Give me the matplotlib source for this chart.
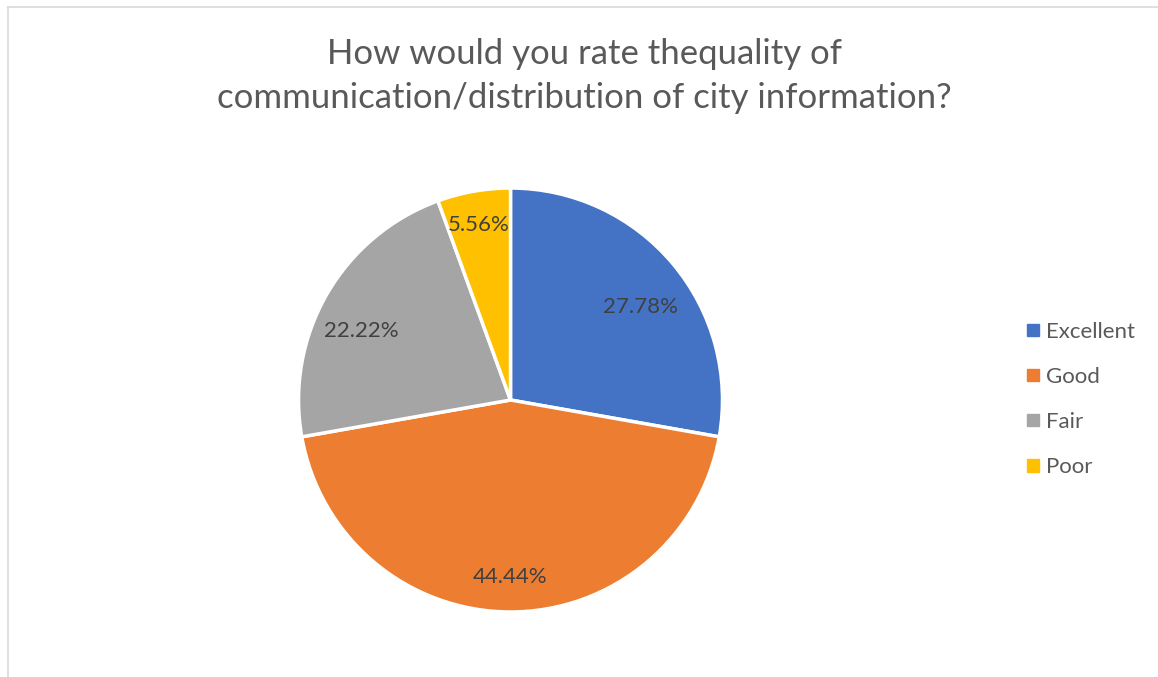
"""
Pie chart: rating of city information distribution
"""
import numpy as np
import matplotlib
matplotlib.use('Agg')
import matplotlib.pyplot as plt
from matplotlib.lines import Line2D

categories = ['Excellent', 'Good', 'Fair', 'Poor']
shares = [27.78, 44.44, 22.22, 5.56]
colors = ['#4472C4', '#ED7D31', '#A5A5A5', '#FFC000']
title = 'How would you rate thequality of\ncommunication/distribution of city information?'

plt.rcParams['font.family'] = ['Lato', 'DejaVu Sans']

fig = plt.figure(figsize=(11.58, 6.77), dpi=100)
ax = fig.add_axes([0.2578, 0.096, 0.3661, 0.6263])

wedges, _ = ax.pie(shares, colors=colors, startangle=90, counterclock=False,
                   wedgeprops=dict(edgecolor='white', linewidth=2.5))
ax.set_aspect('equal')
ax.set_xlim(-1, 1)
ax.set_ylim(-1, 1)

# подписи процентов: расстояние от центра и сдвиг угла как в оригинале (best fit)
dists = [0.755, 0.835, 0.775, 0.84]
shifts = [-4.4, 0, 5.0, 0.3]
for w, val, d, s in zip(wedges, shares, dists, shifts):
    ang = np.deg2rad((w.theta1 + w.theta2) / 2 + s)
    ax.text(d * np.cos(ang), d * np.sin(ang), f'{val:.2f}%',
            ha='center', va='center', fontsize=16, color='#404040')

fig.text(0.505, 0.888, title, ha='center', va='center', fontsize=25,
         color='#595959', linespacing=1.45)

handles = [plt.Rectangle((0, 0), 1, 1, color=c) for c in colors]
fig.legend(handles, categories, loc='center left', bbox_to_anchor=(0.87, 0.41),
           frameon=False, fontsize=16, labelcolor='#595959',
           handlelength=0.5, handleheight=0.5, handletextpad=0.35,
           labelspacing=1.13)

# рамка области диаграммы (видны только левый и верхний края)
fig.add_artist(Line2D([0.007, 0.007], [0, 0.99], color='#D9D9D9', lw=1.2))
fig.add_artist(Line2D([0.007, 1], [0.99, 0.99], color='#D9D9D9', lw=1.2))

fig.savefig('out.png', dpi=100)
